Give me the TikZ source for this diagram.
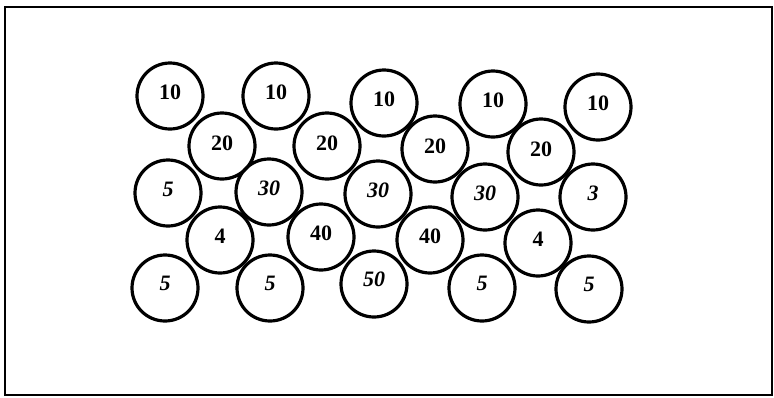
\documentclass[tikz,border=0pt]{standalone}
\usepackage{fontspec}
\setmainfont{Liberation Serif}
\begin{document}
\begin{tikzpicture}[x=1pt,y=1pt,
  ball/.style={circle,draw=black,line width=3.2pt,minimum size=66pt,inner sep=0pt,
    font=\fontsize{22}{24}\selectfont\bfseries},
  frame/.style={draw=black,line width=2pt}]
\useasboundingbox (0,0) rectangle (774,-397);
\draw[frame] (5,-7) rectangle (772,-395);
% row 1
\node[ball] (a1) at (170,-96) {\raisebox{8pt}{10}};
\node[ball] (a2) at (276,-96) {\raisebox{8pt}{10}};
\node[ball] (a3) at (384,-103) {\raisebox{8pt}{10}};
\node[ball] (a4) at (493,-104) {\raisebox{8pt}{10}};
\node[ball] (a5) at (598,-107) {\raisebox{8pt}{10}};
% row 2
\node[ball] (b1) at (222,-146) {\raisebox{6pt}{20}};
\node[ball] (b2) at (327,-146) {\raisebox{6pt}{20}};
\node[ball] (b3) at (435,-149) {\raisebox{6pt}{20}};
\node[ball] (b4) at (541,-152) {\raisebox{6pt}{20}};
% row 3
\node[ball] (c1) at (168,-193) {\raisebox{8pt}{\itshape 5}};
\node[ball] (c2) at (269,-192) {\raisebox{8pt}{\itshape 30}};
\node[ball] (c3) at (378,-194) {\raisebox{8pt}{\itshape 30}};
\node[ball] (c4) at (485,-197) {\raisebox{8pt}{\itshape 30}};
\node[ball] (c5) at (593,-197) {\raisebox{8pt}{\itshape 3}};
% row 4
\node[ball] (d1) at (220,-240) {\raisebox{7pt}{4}};
\node[ball] (d2) at (321,-237) {\raisebox{7pt}{40}};
\node[ball] (d3) at (430,-240) {\raisebox{7pt}{40}};
\node[ball] (d4) at (538,-243) {\raisebox{7pt}{4}};
% row 5
\node[ball] (e1) at (165,-288) {\raisebox{9pt}{\itshape 5}};
\node[ball] (e2) at (270,-288) {\raisebox{9pt}{\itshape 5}};
\node[ball] (e3) at (374,-284) {\raisebox{9pt}{\itshape 50}};
\node[ball] (e4) at (482,-288) {\raisebox{9pt}{\itshape 5}};
\node[ball] (e5) at (589,-289) {\raisebox{9pt}{\itshape 5}};
\end{tikzpicture}
\end{document}
